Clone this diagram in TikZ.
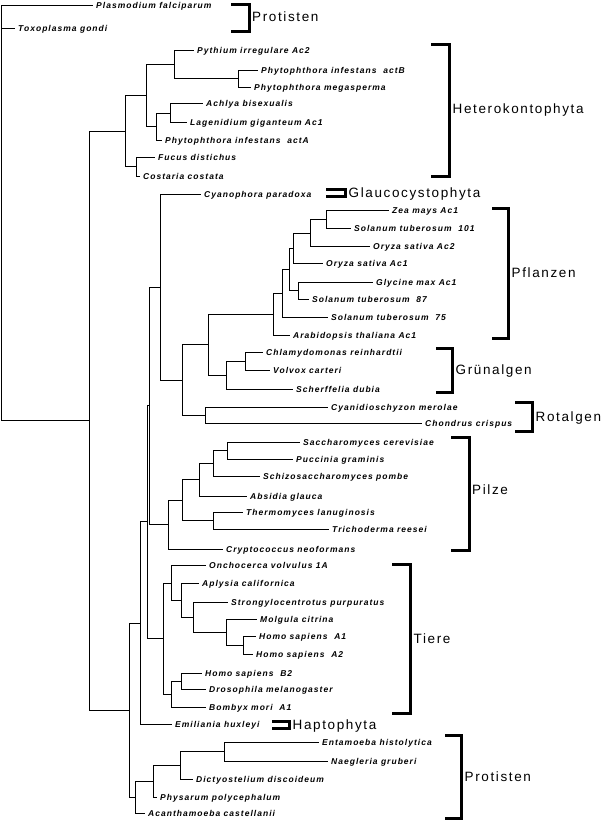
\documentclass[tikz,border=0pt]{standalone}
\usepackage{fontspec}
\usepackage{tikz}
\newfontfamily\taxonfont[LetterSpace=12]{Liberation Sans}
\tikzset{
    branch/.style={line width=1pt}, % lines of the tree
    leaf/.style={anchor=west, inner xsep=3pt, inner ysep=0pt, text height=6pt, text depth=0pt, font=\taxonfont\bfseries\itshape\fontsize{8.5}{10}\selectfont}, % species names
    clade/.style={anchor=west, inner xsep=1.5pt, inner ysep=0pt, text height=9.7pt, text depth=0pt, font=\taxonfont\fontsize{13.5}{15}\selectfont}, % group names
    bracket/.style={line width=3pt}, % brackets in front of the group names
}

\begin{document}
\begin{tikzpicture}[x=1pt, y=-1pt]
    \useasboundingbox (0,0) rectangle (602,822);

    % inner nodes of the tree
    \coordinate (root) at (1,212);
    \coordinate (nE) at (89,420.5);
    \coordinate (nH1) at (125,131);
    \coordinate (nH2) at (146,95.5);
    \coordinate (nH3) at (174,64);
    \coordinate (nH3b) at (238,78.5);
    \coordinate (nH4) at (156,126.5);
    \coordinate (nH4a) at (170,113);
    \coordinate (nH5) at (136,166.5);
    \coordinate (nD) at (129,710.5);
    \coordinate (nC) at (140,623);
    \coordinate (nB) at (147,521);
    \coordinate (nA) at (149,405);
    \coordinate (nP0) at (160,287);
    \coordinate (nP1) at (182,380);
    \coordinate (nP2) at (208,344.5);
    \coordinate (nL0) at (273,314);
    \coordinate (nU) at (282,293);
    \coordinate (nW) at (289,269);
    \coordinate (nX) at (293,248);
    \coordinate (nY) at (310,233);
    \coordinate (nZ) at (326,219);
    \coordinate (nV) at (298,290.5);
    \coordinate (nG) at (226,375);
    \coordinate (nG2) at (245,361);
    \coordinate (nR) at (205,415);
    \coordinate (nF0) at (168,524);
    \coordinate (nF1) at (182,500);
    \coordinate (nF2) at (199,479.5);
    \coordinate (nF3) at (213,463);
    \coordinate (nF4) at (227,450.5);
    \coordinate (nF5) at (213,520.5);
    \coordinate (nT0) at (163,638.5);
    \coordinate (nT1) at (171,583);
    \coordinate (nT2) at (181,600);
    \coordinate (nT3) at (193,617);
    \coordinate (nT4) at (226,632);
    \coordinate (nT5) at (243,645);
    \coordinate (nT6) at (171,694);
    \coordinate (nT7) at (181,681);
    \coordinate (nLP0) at (135,797);
    \coordinate (nLP1) at (153,781);
    \coordinate (nLP2) at (180,765);
    \coordinate (nLP3) at (224,751.5);

    % species
    \node[leaf] (plas) at (93,5) {Plasmodium falciparum};
    \node[leaf] (toxo) at (15,28) {Toxoplasma gondi};
    \node[leaf] (pyth) at (194,50) {Pythium irregulare Ac2};
    \node[leaf] (phyB) at (258,70) {Phytophthora infestans\ \ actB};
    \node[leaf] (phyM) at (251,87) {Phytophthora megasperma};
    \node[leaf] (achl) at (203,103.5) {Achlya bisexualis};
    \node[leaf] (lage) at (187,122) {Lagenidium giganteum Ac1};
    \node[leaf] (phyA) at (162,140) {Phytophthora infestans\ \ actA};
    \node[leaf] (fucu) at (155,157) {Fucus distichus};
    \node[leaf] (cost) at (140,176) {Costaria costata};
    \node[leaf] (cyph) at (201,194) {Cyanophora paradoxa};
    \node[leaf] (zeam) at (389,210) {Zea mays Ac1};
    \node[leaf] (sol1) at (351,228.5) {Solanum tuberosum\ \ 101};
    \node[leaf] (ory2) at (370,246.5) {Oryza sativa Ac2};
    \node[leaf] (ory1) at (323,263) {Oryza sativa Ac1};
    \node[leaf] (glyc) at (373,282) {Glycine max Ac1};
    \node[leaf] (sol8) at (309,299) {Solanum tuberosum\ \ 87};
    \node[leaf] (sol7) at (328,317) {Solanum tuberosum\ \ 75};
    \node[leaf] (arab) at (290,335) {Arabidopsis thaliana Ac1};
    \node[leaf] (chla) at (263,352) {Chlamydomonas reinhardtii};
    \node[leaf] (volv) at (270,370) {Volvox carteri};
    \node[leaf] (sche) at (293,389) {Scherffelia dubia};
    \node[leaf] (cyan) at (328,407) {Cyanidioschyzon merolae};
    \node[leaf] (chon) at (422,423) {Chondrus crispus};
    \node[leaf] (sacc) at (300,442) {Saccharomyces cerevisiae};
    \node[leaf] (pucc) at (293,459) {Puccinia graminis};
    \node[leaf] (schi) at (260,476) {Schizosaccharomyces pombe};
    \node[leaf] (absi) at (247,496) {Absidia glauca};
    \node[leaf] (ther) at (243,512) {Thermomyces lanuginosis};
    \node[leaf] (tric) at (329,529) {Trichoderma reesei};
    \node[leaf] (cryp) at (223,549) {Cryptococcus neoformans};
    \node[leaf] (onch) at (206,565) {Onchocerca volvulus 1A};
    \node[leaf] (aply) at (199,583) {Aplysia californica};
    \node[leaf] (stro) at (228,602) {Strongylocentrotus purpuratus};
    \node[leaf] (molg) at (257,619) {Molgula citrina};
    \node[leaf] (hoA1) at (256,636) {Homo sapiens\ \ A1};
    \node[leaf] (hoA2) at (253,654) {Homo sapiens\ \ A2};
    \node[leaf] (hoB2) at (202,673) {Homo sapiens\ \ B2};
    \node[leaf] (dros) at (206,689) {Drosophila melanogaster};
    \node[leaf] (bomb) at (206,707) {Bombyx mori\ \ A1};
    \node[leaf] (emil) at (172,724) {Emiliania huxleyi};
    \node[leaf] (enta) at (319,742) {Entamoeba histolytica};
    \node[leaf] (naeg) at (328,761) {Naegleria gruberi};
    \node[leaf] (dict) at (193,779) {Dictyostelium discoideum};
    \node[leaf] (phys) at (157,797) {Physarum polycephalum};
    \node[leaf] (acan) at (145,813) {Acanthamoeba castellanii};

    % branches
    \draw[branch] (root) |- (plas.west) (root) |- (toxo.west) (root) |- (nE);
    \draw[branch] (nE) |- (nH1) (nE) |- (nD);
    \draw[branch] (nH1) |- (nH2) (nH1) |- (nH5);
    \draw[branch] (nH2) |- (nH3) (nH2) |- (nH4);
    \draw[branch] (nH3) |- (pyth.west) (nH3) |- (nH3b);
    \draw[branch] (nH3b) |- (phyB.west) (nH3b) |- (phyM.west);
    \draw[branch] (nH4) |- (nH4a) (nH4) |- (phyA.west);
    \draw[branch] (nH4a) |- (achl.west) (nH4a) |- (lage.west);
    \draw[branch] (nH5) |- (fucu.west) (nH5) |- (cost.west);
    \draw[branch] (nD) |- (nC) (nD) |- (nLP0);
    \draw[branch] (nC) |- (nB) (nC) |- (emil.west);
    \draw[branch] (nB) |- (nA) (nB) |- (nT0);
    \draw[branch] (nA) |- (nP0) (nA) |- (nF0);
    \draw[branch] (nP0) |- (cyph.west) (nP0) |- (nP1);
    \draw[branch] (nP1) |- (nP2) (nP1) |- (nR);
    \draw[branch] (nP2) |- (nL0) (nP2) |- (nG);
    \draw[branch] (nL0) |- (nU) (nL0) |- (arab.west);
    \draw[branch] (nU) |- (nW) (nU) |- (sol7.west);
    \draw[branch] (nW) |- (nX) (nW) |- (nV);
    \draw[branch] (nX) |- (nY) (nX) |- (ory1.west);
    \draw[branch] (nY) |- (nZ) (nY) |- (ory2.west);
    \draw[branch] (nZ) |- (zeam.west) (nZ) |- (sol1.west);
    \draw[branch] (nV) |- (glyc.west) (nV) |- (sol8.west);
    \draw[branch] (nG) |- (nG2) (nG) |- (sche.west);
    \draw[branch] (nG2) |- (chla.west) (nG2) |- (volv.west);
    \draw[branch] (nR) |- (cyan.west) (nR) |- (chon.west);
    \draw[branch] (nF0) |- (nF1) (nF0) |- (cryp.west);
    \draw[branch] (nF1) |- (nF2) (nF1) |- (nF5);
    \draw[branch] (nF2) |- (nF3) (nF2) |- (absi.west);
    \draw[branch] (nF3) |- (nF4) (nF3) |- (schi.west);
    \draw[branch] (nF4) |- (sacc.west) (nF4) |- (pucc.west);
    \draw[branch] (nF5) |- (ther.west) (nF5) |- (tric.west);
    \draw[branch] (nT0) |- (nT1) (nT0) |- (nT6);
    \draw[branch] (nT1) |- (onch.west) (nT1) |- (nT2);
    \draw[branch] (nT2) |- (aply.west) (nT2) |- (nT3);
    \draw[branch] (nT3) |- (stro.west) (nT3) |- (nT4);
    \draw[branch] (nT4) |- (molg.west) (nT4) |- (nT5);
    \draw[branch] (nT5) |- (hoA1.west) (nT5) |- (hoA2.west);
    \draw[branch] (nT6) |- (nT7) (nT6) |- (bomb.west);
    \draw[branch] (nT7) |- (hoB2.west) (nT7) |- (dros.west);
    \draw[branch] (nLP0) |- (nLP1) (nLP0) |- (acan.west);
    \draw[branch] (nLP1) |- (nLP2) (nLP1) |- (phys.west);
    \draw[branch] (nLP2) |- (nLP3) (nLP2) |- (dict.west);
    \draw[branch] (nLP3) |- (enta.west) (nLP3) |- (naeg.west);

    % groups
    \draw[bracket] (231,4) -| (249,31) -- (231,31);
    \node[clade] (protA) at (250.5,17) {Protisten};
    \draw[bracket] (431,44) -| (449.5,176) -- (431,176);
    \node[clade] (hete) at (451,109) {Heterokontophyta};
    \draw[bracket] (326,189.5) -| (345.5,196) -- (326,196);
    \node[clade] (glau) at (347,193) {Glaucocystophyta};
    \draw[bracket] (492,208) -| (508.5,338) -- (492,338);
    \node[clade] (pfla) at (510,273) {Pflanzen};
    \draw[bracket] (436,348) -| (452.5,392) -- (436,392);
    \node[clade] (grue) at (454,370) {Grünalgen};
    \draw[bracket] (515,402.5) -| (532.5,431) -- (515,431);
    \node[clade] (rota) at (534,417) {Rotalgen};
    \draw[bracket] (451,437) -| (469,550.5) -- (451,550.5);
    \node[clade] (pilz) at (470.5,490) {Pilze};
    \draw[bracket] (392,564.5) -| (410.5,713) -- (392,713);
    \node[clade] (tier) at (412,639) {Tiere};
    \draw[bracket] (272,721.5) -| (289.5,728) -- (272,728);
    \node[clade] (hapt) at (291,725) {Haptophyta};
    \draw[bracket] (445,735.5) -| (461.5,818.5) -- (445,818.5);
    \node[clade] (protB) at (463,777) {Protisten};
\end{tikzpicture}
\end{document}
